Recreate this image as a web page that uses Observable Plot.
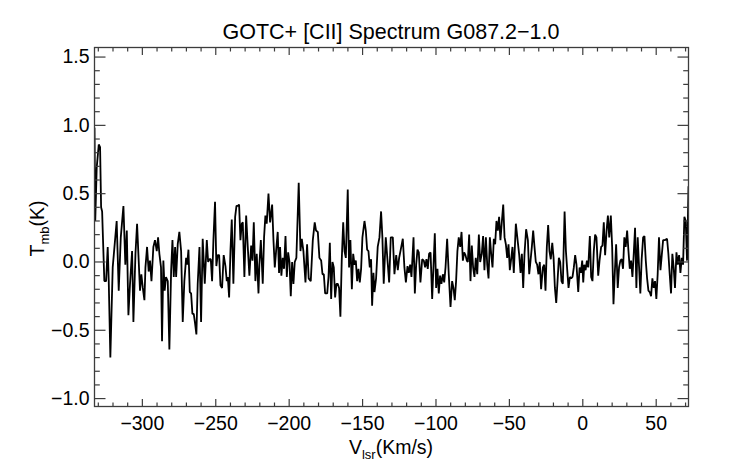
<!DOCTYPE html>
<html>
<head>
<meta charset="utf-8">
<script src="https://cdn.jsdelivr.net/npm/d3@7"></script>
<script src="https://cdn.jsdelivr.net/npm/@observablehq/plot@0.6"></script>
<style>
  html, body { margin: 0; padding: 0; background: #fff; }
  #chart svg { display: block; }
</style>
</head>
<body>
<div id="chart"></div>
<script>
// ---- texts ----
const titleText = "GOTC+ [CII] Spectrum G087.2\u22121.0";
const xLabelMain = "V", xLabelSub = "lsr", xLabelUnit = "(Km/s)";
const yLabelMain = "T", yLabelSub = "mb", yLabelUnit = "(K)";

// ---- axes ----
const xDomain = [-332.6, 72.0];
const yDomain = [-1.058, 1.57];
const xMajorTicks = [-300, -250, -200, -150, -100, -50, 0, 50];
const xMinorTicks = [-330,-320,-310,-290,-280,-270,-260,-240,-230,-220,-210,-190,-180,-170,-160,-140,-130,-120,-110,-90,-80,-70,-60,-40,-30,-20,-10,10,20,30,40,60,70];
const yMajorTicks = [-1.0, -0.5, 0.0, 0.5, 1.0, 1.5];
const yMinorTicks = [-0.9,-0.8,-0.7,-0.6,-0.4,-0.3,-0.2,-0.1,0.1,0.2,0.3,0.4,0.6,0.7,0.8,0.9,1.1,1.2,1.3,1.4];

// ---- spectrum: [velocity km/s, Tmb K] ----
const seg1 = [[-332.6,0.98],[-332.1,0.30],[-331.1,0.69],[-329.7,0.86],[-328.8,0.84],[-328.1,0.40],[-327.4,0.37],[-327.0,0.23],[-325.9,-0.14],[-324.7,-0.14],[-323.6,0.11],[-322.9,-0.14],[-321.8,-0.70],[-320.2,-0.04],[-319.0,0.11],[-317.5,0.30],[-316.1,-0.21],[-314.7,0.18],[-312.9,0.41],[-311.6,-0.02],[-310.6,0.23],[-309.5,-0.39],[-308.4,-0.16],[-307.0,0.08],[-306.1,-0.44],[-304.7,0.06],[-303.6,0.28],[-302.5,0.01],[-301.6,-0.21],[-300.7,-0.09],[-299.7,-0.19],[-298.6,-0.28],[-297.9,-0.04],[-296.8,0.11],[-295.7,-0.07],[-294.8,0.01],[-293.8,-0.14],[-292.5,0.11],[-291.4,0.16],[-290.2,0.08],[-289.3,0.18],[-288.4,0.06],[-287.3,-0.04],[-286.6,-0.58],[-285.7,0.01],[-284.8,-0.21],[-283.9,-0.11]];
const seg2 = [[-282.7,-0.14],[-281.6,-0.64],[-280.4,-0.06],[-279.5,0.16],[-278.6,-0.11],[-277.7,0.11],[-277.0,-0.11],[-275.9,0.13],[-274.8,0.22],[-273.6,0.08],[-272.5,-0.44],[-271.4,-0.14],[-270.2,0.03],[-269.5,-0.02],[-268.6,0.09],[-267.7,-0.22],[-266.8,-0.23],[-265.9,-0.38],[-265.0,-0.38],[-264.1,-0.45],[-263.2,-0.53],[-262.3,-0.16],[-261.1,0.11],[-260.0,-0.44],[-258.9,0.17],[-257.5,-0.16],[-256.1,0.16],[-255.2,0.00],[-254.3,0.02],[-253.4,0.02],[-252.5,-0.14],[-251.6,0.16],[-250.5,0.44],[-249.6,-0.03],[-248.7,0.05],[-247.7,0.05],[-246.8,-0.17],[-245.7,-0.19],[-244.6,0.05],[-243.4,-0.03],[-242.5,-0.14],[-241.8,-0.11],[-240.9,-0.26],[-240.0,0.08],[-239.1,0.31],[-238.0,-0.16],[-236.8,0.33],[-235.9,0.41],[-235.0,0.41],[-234.1,0.42],[-233.2,0.16],[-232.3,0.28]];
const seg3 = [[-231.6,0.29],[-230.5,-0.11],[-229.3,0.34],[-228.2,0.11],[-227.1,-0.10],[-225.9,0.12],[-225.0,0.01],[-224.1,0.29],[-223.0,-0.14],[-222.1,0.06],[-220.9,-0.23],[-220.3,-0.02],[-219.3,0.16],[-218.0,-0.16],[-217.1,0.18],[-216.2,0.34],[-215.3,0.28],[-214.1,0.50],[-213.0,0.29],[-211.6,0.42],[-210.7,0.16],[-209.8,-0.04],[-208.9,0.08],[-207.8,0.22],[-206.9,-0.08],[-206.2,0.11],[-205.3,-0.10],[-204.4,0.03],[-203.5,-0.05],[-202.5,0.19],[-201.6,-0.11],[-200.7,0.07],[-199.8,0.00],[-198.9,-0.25],[-198.0,0.00],[-197.1,-0.16],[-196.2,0.00],[-195.1,0.03],[-193.5,0.58],[-192.3,0.08],[-191.4,0.17],[-190.3,0.08],[-188.9,-0.15],[-187.8,0.13],[-186.7,-0.12],[-185.3,-0.14],[-183.9,0.16],[-182.6,0.29],[-181.7,0.23]];
const seg4 = [[-180.5,0.22],[-179.4,0.03],[-178.2,0.01],[-177.3,-0.09],[-176.4,-0.09],[-175.5,-0.23],[-174.1,-0.23],[-173.2,-0.11],[-172.3,0.14],[-171.4,-0.27],[-170.5,0.00],[-169.6,-0.04],[-168.7,-0.26],[-167.8,-0.16],[-166.9,-0.16],[-166.0,-0.19],[-165.1,-0.40],[-164.2,0.01],[-163.2,0.29],[-162.3,0.08],[-161.4,0.03],[-160.1,0.53],[-159.2,-0.04],[-158.3,0.16],[-157.3,-0.20],[-156.4,0.06],[-155.5,-0.02],[-154.6,0.01],[-153.7,-0.14],[-152.8,-0.05],[-151.9,-0.15],[-151.0,-0.05],[-150.1,0.18],[-148.7,0.30],[-147.8,0.23],[-146.9,0.09],[-146.0,0.08],[-145.1,-0.04],[-144.2,0.02],[-143.5,-0.32],[-142.6,-0.08],[-141.9,-0.22],[-140.8,-0.12],[-139.7,0.11],[-138.5,0.18],[-137.4,0.37],[-136.5,0.18],[-135.6,-0.16],[-134.2,0.18],[-132.8,-0.02],[-131.9,-0.15],[-130.8,0.18]];
const seg5 = [[-129.4,0.18],[-128.3,-0.09],[-127.1,0.05],[-126.0,-0.06],[-125.1,0.03],[-124.0,0.09],[-122.6,0.17],[-121.5,-0.04],[-120.5,-0.15],[-119.4,-0.03],[-118.5,-0.08],[-117.6,-0.02],[-116.7,-0.11],[-115.3,0.18],[-114.4,-0.23],[-113.5,-0.02],[-112.6,0.09],[-111.7,0.07],[-110.6,-0.15],[-109.4,0.02],[-108.3,0.01],[-107.4,-0.04],[-106.5,0.02],[-105.6,-0.05],[-104.7,0.06],[-103.7,0.07],[-102.6,-0.27],[-101.7,-0.03],[-100.8,0.21],[-99.9,-0.19],[-99.0,-0.05],[-98.1,-0.23],[-97.2,-0.10],[-96.3,-0.16],[-95.3,-0.09],[-94.4,-0.15],[-93.5,-0.04],[-92.4,0.17],[-91.3,-0.09],[-90.1,-0.33],[-89.0,-0.14],[-88.1,-0.19],[-87.2,-0.28],[-86.3,-0.14],[-85.4,0.08],[-84.5,0.18],[-83.5,0.11],[-82.6,0.22],[-81.7,0.01],[-80.8,0.07],[-79.9,0.05],[-79.0,0.01]];
const seg6 = [[-78.3,0.00],[-77.4,0.20],[-76.5,-0.14],[-75.6,0.12],[-74.7,-0.04],[-73.8,-0.11],[-72.9,0.03],[-71.9,-0.09],[-70.8,0.20],[-69.9,0.00],[-68.8,0.06],[-67.9,0.19],[-67.0,-0.06],[-66.0,0.18],[-65.1,-0.02],[-64.2,-0.12],[-63.3,0.18],[-62.4,0.06],[-61.5,-0.04],[-60.6,0.17],[-59.7,0.13],[-58.8,0.30],[-57.9,0.23],[-57.0,0.33],[-56.1,0.16],[-55.1,0.30],[-54.2,0.42],[-53.3,0.18],[-52.4,0.13],[-51.5,0.03],[-50.6,0.13],[-49.7,-0.06],[-48.8,0.02],[-47.9,0.11],[-47.0,-0.08],[-45.6,0.28],[-44.2,0.14],[-43.3,0.05],[-42.4,-0.08],[-41.5,0.06],[-40.6,-0.19],[-39.7,0.06],[-38.6,0.24],[-37.4,0.16],[-36.5,-0.09],[-35.6,0.01],[-34.7,0.11],[-33.8,0.23],[-32.9,0.11],[-32.0,0.00],[-31.1,-0.02],[-30.2,-0.09],[-29.3,0.00],[-28.4,-0.20]];
const seg7 = [[-27.2,-0.04],[-26.3,-0.02],[-25.4,-0.21],[-24.5,0.11],[-23.6,0.27],[-22.7,0.08],[-21.8,0.02],[-20.8,0.14],[-19.9,0.03],[-19.0,-0.19],[-18.1,-0.30],[-17.2,-0.14],[-16.3,0.03],[-15.4,0.00],[-14.5,-0.14],[-13.6,-0.16],[-12.4,0.37],[-11.5,0.08],[-10.6,-0.06],[-9.7,-0.19],[-8.8,-0.11],[-7.9,-0.12],[-7.0,-0.11],[-6.1,-0.04],[-5.2,0.05],[-4.3,-0.02],[-3.1,-0.22],[-2.2,-0.04],[-1.3,-0.08],[-0.4,0.01],[0.3,-0.15],[1.0,-0.02],[1.9,-0.06],[2.8,0.01],[3.7,-0.04],[4.8,0.19],[5.7,-0.11],[6.6,-0.14],[7.5,0.08],[8.4,0.20],[9.3,0.18],[10.5,-0.10],[11.4,0.01],[12.5,0.11],[13.4,0.12],[14.3,0.29],[15.2,0.05],[16.2,0.23],[17.1,0.34],[18.0,0.18],[19.1,0.34],[20.0,0.11],[20.9,-0.31],[21.8,-0.08],[22.7,0.13]];
const seg8 = [[23.8,-0.19],[24.7,-0.04],[25.6,0.01],[26.5,0.02],[27.4,-0.05],[28.3,0.18],[29.2,0.11],[30.2,0.23],[31.1,0.08],[32.0,-0.05],[32.9,0.01],[33.8,-0.11],[34.7,0.06],[35.6,0.25],[36.5,-0.19],[37.4,0.18],[38.3,-0.03],[39.2,-0.23],[40.1,0.02],[41.1,0.18],[42.0,0.19],[42.9,0.01],[43.8,-0.12],[44.7,-0.21],[45.6,-0.22],[46.5,-0.25],[47.4,-0.12],[48.3,-0.19],[49.2,-0.14],[50.1,-0.27],[51.0,-0.09],[51.9,0.18],[52.9,-0.06],[53.8,0.05],[54.7,0.16],[56.0,0.16],[57.4,0.17],[58.3,0.06],[59.2,-0.09],[60.1,-0.23],[61.0,0.06],[61.9,-0.04],[62.8,-0.19],[63.8,0.07],[64.7,-0.02],[65.6,0.05],[66.5,-0.08],[67.4,0.03],[68.3,-0.02],[69.2,0.33],[70.1,0.30],[71.0,0.01],[72.0,0.55]];

const spectrum = [...seg1, ...seg2, ...seg3, ...seg4, ...seg5, ...seg6, ...seg7, ...seg8]
  .map(([v, t]) => ({v, t}));

// ---- layout ----
const W = 742, H = 464;
const mL = 94, mR = 54, mT = 47, mB = 58;
const axisColor = "#3c3c3c";
const font = "'Liberation Sans', Arial, Helvetica, sans-serif";
const tickFont = 19.5;

const yFmt = d3.format(".1f");
const xFmt = d3.format("d");

const plot = Plot.plot({
  width: W, height: H,
  marginLeft: mL, marginRight: mR, marginTop: mT, marginBottom: mB,
  style: {fontFamily: font, background: "#fff", color: "#000", overflow: "visible"},
  x: {domain: xDomain, label: null},
  y: {domain: yDomain, label: null},
  marks: [
    Plot.line(spectrum, {x: "v", y: "t", stroke: "#000", strokeWidth: 1.8, clip: true, strokeLinejoin: "miter"}),
    Plot.frame({stroke: axisColor, strokeWidth: 1.3}),
    // inward ticks, mirrored on all sides
    Plot.axisX(xMajorTicks, {anchor: "bottom", tickSize: -7, fill: "none", stroke: axisColor, strokeWidth: 1.2, label: null}),
    Plot.axisX(xMinorTicks, {anchor: "bottom", tickSize: -3.5, fill: "none", stroke: axisColor, strokeWidth: 1.2, label: null}),
    Plot.axisX(xMajorTicks, {anchor: "top", tickSize: -7, fill: "none", stroke: axisColor, strokeWidth: 1.2, label: null}),
    Plot.axisX(xMinorTicks, {anchor: "top", tickSize: -3.5, fill: "none", stroke: axisColor, strokeWidth: 1.2, label: null}),
    Plot.axisY(yMajorTicks, {anchor: "left", tickSize: -11.5, fill: "none", stroke: axisColor, strokeWidth: 1.2, label: null}),
    Plot.axisY(yMinorTicks, {anchor: "left", tickSize: -5.8, fill: "none", stroke: axisColor, strokeWidth: 1.2, label: null}),
    Plot.axisY(yMajorTicks, {anchor: "right", tickSize: -11.5, fill: "none", stroke: axisColor, strokeWidth: 1.2, label: null}),
    Plot.axisY(yMinorTicks, {anchor: "right", tickSize: -5.8, fill: "none", stroke: axisColor, strokeWidth: 1.2, label: null}),
    // tick labels
    Plot.axisX(xMajorTicks, {anchor: "bottom", tickSize: 0, tickPadding: 10, tickFormat: xFmt, fontSize: tickFont, fill: "#000", label: null}),
    Plot.axisY(yMajorTicks, {anchor: "left", tickSize: 0, tickPadding: 5, tickFormat: yFmt, fontSize: tickFont, fill: "#000", label: null})
  ]
});

document.getElementById("chart").appendChild(plot);

// ---- title and axis labels (real text with subscripts) ----
const svg = d3.select(plot);
const cx = mL + (W - mL - mR) / 2;
const cy = mT + (H - mT - mB) / 2;

svg.append("text")
  .attr("x", cx).attr("y", 39)
  .attr("text-anchor", "middle")
  .attr("font-family", font).attr("font-size", 21.5).attr("fill", "#000")
  .text(titleText);

const xl = svg.append("text")
  .attr("x", cx).attr("y", 454)
  .attr("text-anchor", "middle")
  .attr("font-family", font).attr("font-size", 19.5).attr("fill", "#000");
xl.append("tspan").text(xLabelMain);
xl.append("tspan").attr("font-size", 13).attr("dy", 5).text(xLabelSub);
xl.append("tspan").attr("dy", -5).text(xLabelUnit);

const yl = svg.append("text")
  .attr("transform", `translate(44,${cy + 2}) rotate(-90)`)
  .attr("text-anchor", "middle")
  .attr("font-family", font).attr("font-size", 19.5).attr("fill", "#000");
yl.append("tspan").text(yLabelMain);
yl.append("tspan").attr("font-size", 13).attr("dy", 5).text(yLabelSub);
yl.append("tspan").attr("dy", -5).text(yLabelUnit);
</script>
</body>
</html>
